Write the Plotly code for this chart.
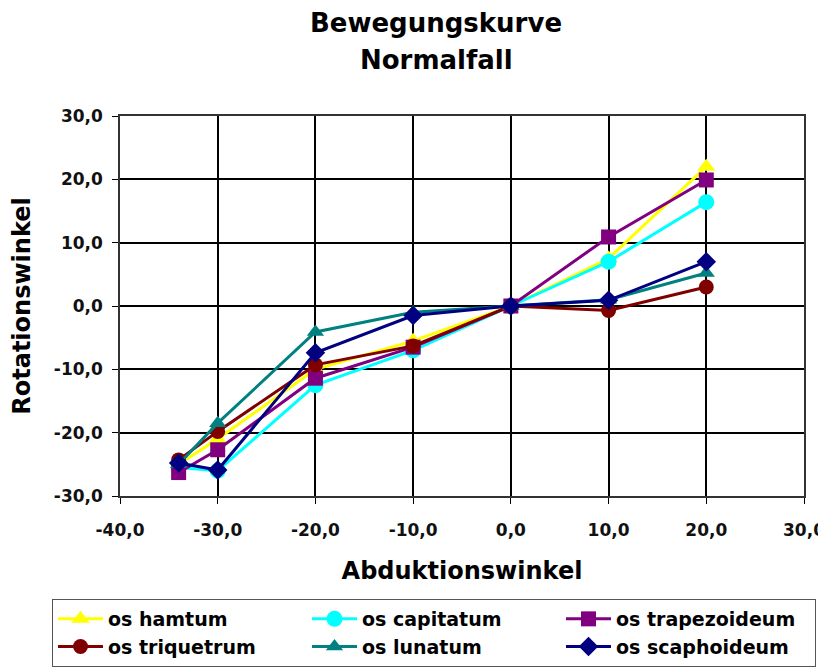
import plotly.graph_objects as go

x_vals = [-34, -30, -20, -10, 0, 10, 20]

names = ["os hamtum", "os capitatum", "os trapezoideum",
         "os triquetrum", "os lunatum", "os scaphoideum"]
hamtum = [-25.0, -21.0, -10.0, -5.5, 0.0, 7.5, 22.0]
capitatum = [-25.5, -26.0, -12.5, -7.0, 0.0, 7.0, 16.4]
trapezoideum = [-26.3, -22.7, -11.4, -6.5, 0.0, 10.9, 19.9]
triquetrum = [-24.3, -19.8, -9.3, -6.3, 0.0, -0.7, 3.0]
lunatum = [-25.0, -18.5, -4.1, -1.0, 0.0, 1.0, 5.2]
scaphoideum = [-24.8, -25.9, -7.4, -1.5, 0.0, 0.9, 7.0]
series = [hamtum, capitatum, trapezoideum, triquetrum, lunatum, scaphoideum]

colors = ["#FFFF00", "#00FFFF", "#800080", "#800000", "#008080", "#000080"]
symbols = ["triangle-up", "circle", "square", "circle", "triangle-up", "diamond"]
sizes = [16, 16, 15, 15, 15, 15]

x_ticks = [-40, -30, -20, -10, 0, 10, 20, 30]
x_labels = ["-40,0", "-30,0", "-20,0", "-10,0", "0,0", "10,0", "20,0", "30,0"]
y_ticks = [-30, -20, -10, 0, 10, 20, 30]
y_labels = ["-30,0", "-20,0", "-10,0", "0,0", "10,0", "20,0", "30,0"]

title_lines = ["Bewegungskurve", "Normalfall"]
x_title = "Abduktionswinkel"
y_title = "Rotationswinkel"

wide = "DejaVu Sans, sans-serif"

fig = go.Figure()
for name, ys, c, s, sz in zip(names, series, colors, symbols, sizes):
    fig.add_trace(go.Scatter(
        x=x_vals, y=ys, name=name, mode="lines+markers",
        line=dict(color=c, width=3),
        marker=dict(color=c, symbol=s, size=sz),
    ))

axis_common = dict(
    showgrid=True, gridcolor="black", gridwidth=2,
    showline=True, linecolor="#333", linewidth=1.5, mirror=True,
    ticks="outside", ticklen=6, tickcolor="black", zeroline=False,
    automargin=False,
    tickfont=dict(size=17, family=wide, color="#111", weight="bold"),
)

# The page body has an 8px margin; the legend's lower edge runs past the
# window bottom, as in the reference.
fig.update_layout(
    width=818, height=672,
    paper_bgcolor="white", plot_bgcolor="white",
    margin=dict(l=112, r=22, t=108, b=184),
    font=dict(family=wide, color="black"),
    xaxis=dict(range=[-40, 30], tickvals=x_ticks, ticktext=x_labels,
               ticklabelstandoff=12,
               title=dict(text="<b>" + x_title + "</b>", standoff=23,
                          font=dict(size=24, family=wide)),
               **axis_common),
    yaxis=dict(range=[-30, 30], tickvals=y_ticks, ticktext=y_labels,
               ticklabelstandoff=6,
               title=dict(text="<b>" + y_title + "</b>", standoff=20,
                          font=dict(size=24, family=wide)),
               **axis_common),
    legend=dict(orientation="h",
                x=(52 - 120) / 684, xanchor="left",
                y=(496 - 599) / 380, yanchor="top",
                entrywidth=194, entrywidthmode="pixels", itemwidth=45,
                bordercolor="#555", borderwidth=1, bgcolor="white",
                font=dict(size=19, family=wide, color="black", weight="bold"),
                tracegroupgap=0),
    showlegend=True,
    annotations=[
        dict(text="<b>" + title_lines[0] + "</b>",
             xref="paper", yref="paper", x=0.462, y=(496 - 23) / 380,
             xanchor="center", yanchor="middle", showarrow=False,
             font=dict(size=26, family=wide, color="black")),
        dict(text="<b>" + title_lines[1] + "</b>",
             xref="paper", yref="paper", x=0.462, y=(496 - 60) / 380,
             xanchor="center", yanchor="middle", showarrow=False,
             font=dict(size=26, family=wide, color="black")),
    ],
)

fig.write_html("out.html")
